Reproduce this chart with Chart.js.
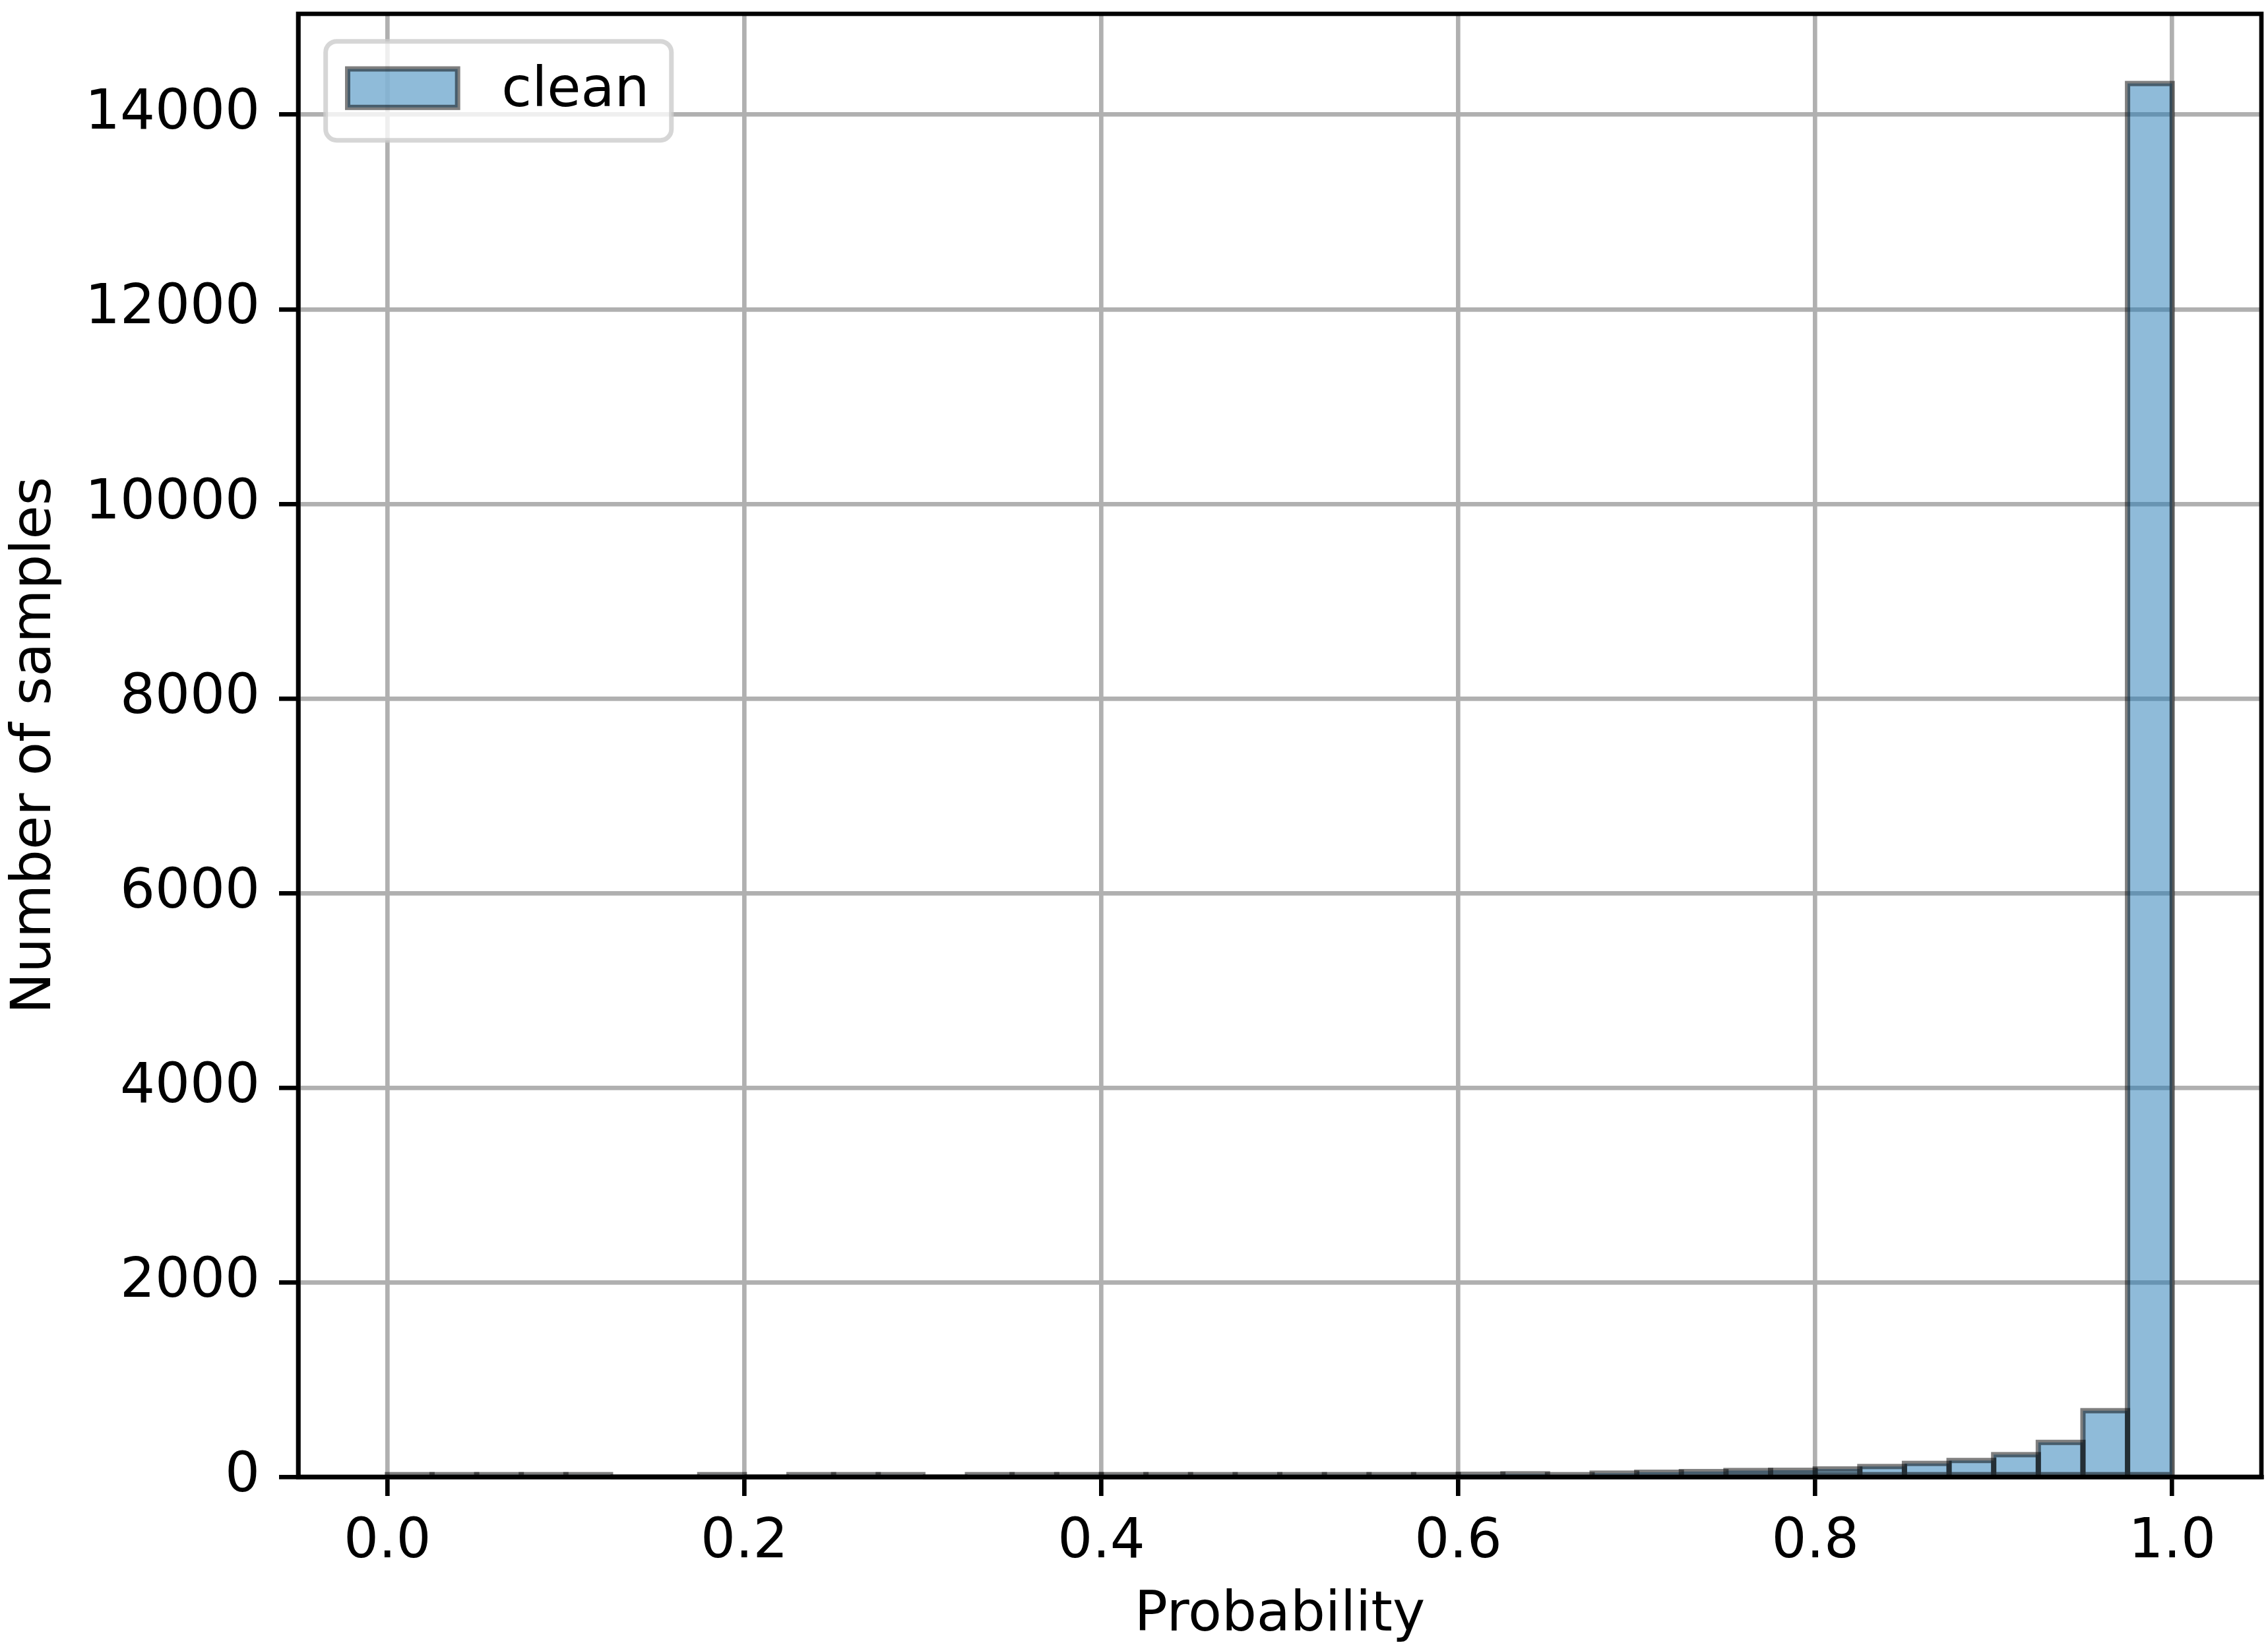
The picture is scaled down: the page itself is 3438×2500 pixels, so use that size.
<!DOCTYPE html>
<html>
<head>
<meta charset="utf-8">
<script src="https://cdn.jsdelivr.net/npm/chart.js@4.4.1/dist/chart.umd.min.js"></script>
<style>
html,body{margin:0;padding:0;background:#ffffff;}
canvas{display:block;}
</style>
</head>
<body>
<canvas id="c" width="3438" height="2500" style="width:3438px;height:2500px"></canvas>
<script>
// ---- data ----
const seriesLabel = 'clean';
const binLeft = [0.000, 0.025, 0.050, 0.075, 0.100, 0.125, 0.150, 0.175, 0.200, 0.225,
                 0.250, 0.275, 0.300, 0.325, 0.350, 0.375, 0.400, 0.425, 0.450, 0.475,
                 0.500, 0.525, 0.550, 0.575, 0.600, 0.625, 0.650, 0.675, 0.700, 0.725,
                 0.750, 0.775, 0.800, 0.825, 0.850, 0.875, 0.900, 0.925, 0.950, 0.975];
const binWidth = 0.025;
const counts = [22, 9, 8, 8, 6, 0, 0, 5, 0, 5,
                5, 5, 0, 13, 13, 12, 5, 12, 12, 20,
                20, 15, 13, 15, 26, 31, 20, 38, 47, 54,
                65, 67, 81, 106, 138, 168, 228, 354, 680, 14320];
const xTicks = [0.0, 0.2, 0.4, 0.6, 0.8, 1.0];
const yTicks = [0, 2000, 4000, 6000, 8000, 10000, 12000, 14000];
const xTitle = 'Probability';
const yTitle = 'Number of samples';

// ---- styling ----
const FS = 83.33;
const LW = 6.67;
const EDGE_W = 8;
const faceColor = 'rgba(31,119,180,0.5)';
const edgeColor = 'rgba(0,0,0,0.5)';
Chart.defaults.font.family = '"DejaVu Sans", sans-serif';
Chart.defaults.color = '#000000';

const points = binLeft.map((l, i) => ({ x: l + binWidth / 2, y: counts[i] }));
const yMax = Math.max(...counts) * 1.05;

// bar edges stroked centred on each bar outline (matplotlib style), positions taken from the bar elements
const edgePlugin = {
  id: 'barEdges',
  afterDatasetsDraw(chart) {
    const ctx = chart.ctx;
    ctx.save();
    chart.data.datasets.forEach((ds, di) => {
      const meta = chart.getDatasetMeta(di);
      ctx.strokeStyle = ds.edgeColor;
      ctx.lineWidth = ds.edgeWidth;
      meta.data.forEach((el) => {
        const p = el.getProps(['x', 'y', 'base', 'width'], true);
        const top = Math.min(p.y, p.base);
        ctx.strokeRect(p.x - p.width / 2, top, p.width, Math.abs(p.base - p.y));
      });
    });
    ctx.restore();
  }
};

const framePlugin = {
  id: 'frameAndLegend',
  afterDraw(chart) {
    const { ctx, chartArea: a } = chart;
    ctx.save();
    ctx.strokeStyle = '#000000';
    ctx.lineWidth = LW;
    ctx.lineJoin = 'miter';
    ctx.strokeRect(a.left, a.top, a.right - a.left, a.bottom - a.top);
    const lx = a.left + 0.5 * FS, ly = a.top + 0.5 * FS;
    ctx.font = FS + 'px "DejaVu Sans"';
    const ds = chart.data.datasets[0];
    const tw = ctx.measureText(ds.label).width;
    const pad = 0.4 * FS, hl = 2.0 * FS, hh = 0.7 * FS, htp = 0.8 * FS;
    const lw = pad * 2 + hl + htp + tw;
    const lh = pad * 2 + FS * 1.0;
    ctx.beginPath();
    ctx.roundRect(lx, ly, lw, lh, 0.2 * FS);
    ctx.fillStyle = 'rgba(255,255,255,0.8)';
    ctx.fill();
    ctx.strokeStyle = 'rgba(204,204,204,0.8)';
    ctx.lineWidth = 7;
    ctx.stroke();
    const px = lx + pad, pcy = ly + lh / 2 - 4;
    ctx.fillStyle = ds.backgroundColor;
    ctx.fillRect(px, pcy - hh / 2, hl, hh);
    ctx.strokeStyle = ds.edgeColor;
    ctx.lineWidth = ds.edgeWidth;
    ctx.strokeRect(px, pcy - hh / 2, hl, hh);
    ctx.fillStyle = '#000000';
    ctx.textBaseline = 'alphabetic';
    ctx.textAlign = 'left';
    ctx.fillText(ds.label, px + hl + htp, ly + pad + 0.78 * FS);
    ctx.restore();
  }
};

new Chart(document.getElementById('c'), {
  type: 'bar',
  data: {
    datasets: [
      {
        label: seriesLabel,
        data: points,
        backgroundColor: faceColor,
        borderWidth: 0,
        inflateAmount: 0,
        barPercentage: 1.0,
        categoryPercentage: 1.0,
        edgeColor: edgeColor,
        edgeWidth: EDGE_W
      }
    ]
  },
  options: {
    responsive: false,
    animation: false,
    devicePixelRatio: 1,
    layout: { padding: { left: 0, top: 21, right: 10, bottom: 0 } },
    plugins: { legend: { display: false }, tooltip: { enabled: false } },
    scales: {
      x: {
        type: 'linear',
        min: -0.05,
        max: 1.05,
        offset: false,
        z: 1,
        afterBuildTicks: (s) => { s.ticks = xTicks.map(v => ({ value: v })); },
        afterFit: (s) => { s.height = 261; s.paddingLeft = 0; s.paddingRight = 0; },
        grid: { color: '#b0b0b0', lineWidth: LW, tickLength: 29, tickWidth: LW, tickColor: '#000000', offset: false },
        border: { display: true, color: '#000000', width: LW },
        ticks: {
          padding: 38,
          maxRotation: 0,
          autoSkip: false,
          font: { size: FS, lineHeight: 0.8 },
          color: '#000000',
          callback: (v) => Number(v).toFixed(1)
        },
        title: { display: true, text: xTitle, font: { size: FS, lineHeight: 1.2 }, color: '#000000', padding: { top: 0, bottom: 0 } }
      },
      y: {
        type: 'linear',
        min: 0,
        max: yMax,
        z: 1,
        afterBuildTicks: (s) => { s.ticks = yTicks.map(v => ({ value: v })); },
        afterFit: (s) => { s.width = 452; s.paddingTop = 0; s.paddingBottom = 0; },
        grid: { color: '#b0b0b0', lineWidth: LW, tickLength: 29, tickWidth: LW, tickColor: '#000000' },
        border: { display: true, color: '#000000', width: LW },
        ticks: {
          padding: 29,
          autoSkip: false,
          font: { size: FS },
          color: '#000000',
          callback: (v) => String(v)
        },
        title: { display: true, text: yTitle, font: { size: FS, lineHeight: 1.2 }, color: '#000000', padding: { top: 4, bottom: 0 } }
      }
    }
  },
  plugins: [edgePlugin, framePlugin]
});
</script>
</body>
</html>
